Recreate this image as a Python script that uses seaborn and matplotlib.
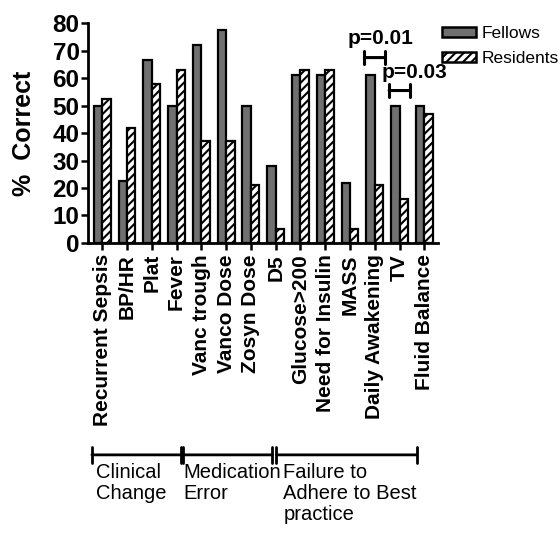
import pandas as pd
import numpy as np
import matplotlib
matplotlib.use('Agg')
import matplotlib.pyplot as plt
import seaborn as sns
from matplotlib.patches import Patch

# Données
categories = ['Recurrent Sepsis', 'BP/HR', 'Plat', 'Fever', 'Vanc trough', 'Vanco Dose',
              'Zosyn Dose', 'D5', 'Glucose>200', 'Need for Insulin', 'MASS',
              'Daily Awakening', 'TV', 'Fluid Balance']
fellows = [50, 22.5, 66.5, 50, 72, 77.5, 50, 28, 61, 61, 22, 61, 50, 50]
residents = [52.5, 42, 58, 63, 37, 37, 21, 5, 63, 63, 5, 21, 16, 47]
groups = ['Fellows', 'Residents']
group_labels = ['Clinical\nChange', 'Medication\nError', 'Failure to\nAdhere to Best\npractice']
group_spans = [(-0.42, 3.17), (3.25, 6.87), (7.03, 12.7)]
group_text_x = [-0.24, 3.29, 7.31]
p_labels = ['p=0.01', 'p=0.03']
p_idx = [11, 12]

sns.set_style('ticks')
plt.rcParams['font.family'] = ['Liberation Sans', 'DejaVu Sans']
plt.rcParams['hatch.linewidth'] = 1.5
for key in ['text.color', 'axes.labelcolor', 'xtick.color', 'ytick.color', 'axes.edgecolor']:
    plt.rcParams[key] = 'black'

df = pd.DataFrame({
    'item': categories * 2,
    'value': fellows + residents,
    'group': [groups[0]] * len(categories) + [groups[1]] * len(categories),
})

fig = plt.figure(figsize=(5.6, 5.41), dpi=100)
ax = fig.add_axes([0.157, 0.551, 0.625, 0.406])

sns.barplot(data=df, x='item', y='value', hue='group', order=categories,
            hue_order=groups, palette=['#707070', 'white'], width=0.68,
            edgecolor='black', linewidth=1.6, legend=False, ax=ax)

# Hachures pour les résidents
for bar in ax.containers[1]:
    bar.set_hatch('////')

ax.set_ylim(0, 80)
ax.set_xlim(-0.58, 13.55)
ax.set_yticks(range(0, 81, 10))
ax.set_ylabel('%  Correct', fontsize=18, fontweight='bold', labelpad=12)
ax.set_xlabel('')
ax.tick_params(axis='y', labelsize=17.5, width=1.8, length=5, pad=1)
ax.tick_params(axis='x', labelsize=15, width=1.8, length=5, pad=3, labelrotation=90)
for lbl in ax.get_yticklabels() + ax.get_xticklabels():
    lbl.set_fontweight('bold')
for s in ['left', 'bottom']:
    ax.spines[s].set_linewidth(2)
sns.despine(ax=ax)

# Annotations de significativité
p_bracket_y = [67.5, 55.5]
p_text_y = [72.3, 60.2]
p_text_dx = [0.22, 0.6]
for lab, i, by, ty, dx in zip(p_labels, p_idx, p_bracket_y, p_text_y, p_text_dx):
    ax.annotate('', xy=(i - 0.42, by), xytext=(i + 0.42, by),
                arrowprops=dict(arrowstyle='|-|,widthA=0.45,widthB=0.45', lw=2.2, color='black',
                                shrinkA=0, shrinkB=0),
                annotation_clip=False)
    ax.text(i + dx, ty, lab, ha='center', va='baseline', fontsize=15, fontweight='bold')

# Légende
handles = [Patch(facecolor='#707070', edgecolor='black', linewidth=1.8, label='Fellows'),
           Patch(facecolor='white', edgecolor='black', hatch='////', linewidth=1.8, label='Residents')]
fig.legend(handles=handles, loc='upper left', bbox_to_anchor=(0.79, 0.952), frameon=False,
           fontsize=12.5, handlelength=1.95, handleheight=0.5, handletextpad=0.3,
           labelspacing=0.6, borderaxespad=0, borderpad=0)

# Regroupement des items sous l'axe
trans = ax.get_xaxis_transform()
for (x0, x1), tx, lab in zip(group_spans, group_text_x, group_labels):
    ax.annotate('', xy=(x0, -0.965), xytext=(x1, -0.965), xycoords=trans, textcoords=trans,
                arrowprops=dict(arrowstyle='|-|,widthA=0.55,widthB=0.55', lw=2, color='black',
                                shrinkA=0, shrinkB=0),
                annotation_clip=False)
    ax.text(tx, -1.0, lab, transform=trans, ha='left', va='top',
            fontsize=14.5, linespacing=1.15)

fig.savefig('out.png', dpi=100)
